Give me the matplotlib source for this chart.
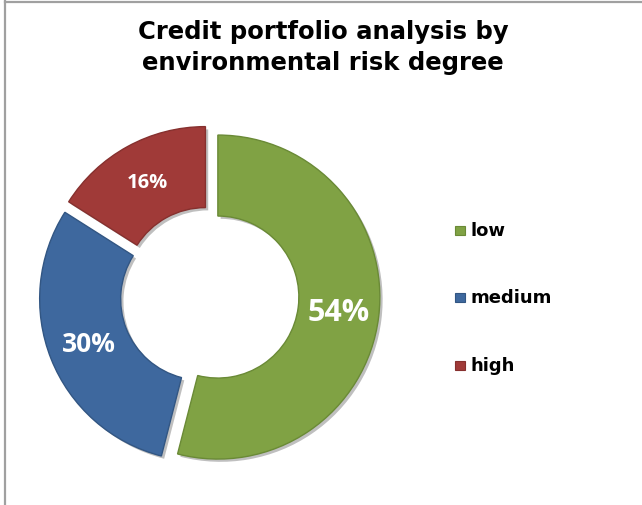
import matplotlib
matplotlib.use("Agg")
import matplotlib.pyplot as plt
from matplotlib.patches import Rectangle
from matplotlib.lines import Line2D
from matplotlib.font_manager import FontProperties
import matplotlib.patheffects as pe

categories = ["low", "medium", "high"]
values = [54, 30, 16]
colors = ["#80A244", "#3E689E", "#A03A38"]
edge_colors = ["#6A8A36", "#325683", "#86302E"]
label_sizes = [22, 19, 14.5]

W, H = 642, 506
fig = plt.figure(figsize=(W / 100, H / 100), dpi=100)
fig.patch.set_facecolor("white")

# chart frame (gray lines on top and left)
fig.add_artist(Line2D([4.5 / W, 4.5 / W], [0, 1 - 2 / H], color="#A0A0A0", lw=1.6))
fig.add_artist(Line2D([4.5 / W, 1], [1 - 2.5 / H, 1 - 2.5 / H], color="#A0A0A0", lw=1.6))

# axes placement: centre (209.5, 209) px from bottom-left, radius 162 px
R_px = 162.0
L = 1.2
half = L * R_px
cx, cy = 209.5, 506 - 297
ax = fig.add_axes([(cx - half) / W, (cy - half) / H, 2 * half / W, 2 * half / H])
ax.set_xlim(-L, L)
ax.set_ylim(-L, L)
ax.set_aspect("equal")
ax.axis("off")

wedges, texts, autotexts = ax.pie(
    values,
    colors=colors,
    startangle=90,
    counterclock=False,
    explode=[0.052] * len(values),
    radius=1.0,
    wedgeprops=dict(width=0.5, linewidth=1.0),
    autopct="%d%%",
    pctdistance=0.75,
    frame=False,
)
ax.set_xlim(-L, L)
ax.set_ylim(-L, L)

for w, ec in zip(wedges, edge_colors):
    w.set_edgecolor(ec)
    w.set_path_effects([
        pe.SimplePatchShadow(offset=(2, -2), alpha=0.25, shadow_rgbFace="#000000"),
        pe.Normal(),
    ])

for t, s in zip(autotexts, label_sizes):
    t.set_fontproperties(FontProperties(family="Open Sans", weight="bold", size=s))
    t.set_color("white")

# title
fig.text(323 / W, 1 - 47.5 / H, "Credit portfolio analysis by\nenvironmental risk degree",
         ha="center", va="center", fontsize=17.5, fontweight="bold",
         family="DejaVu Sans", linespacing=1.33, color="black")

# legend (manual)
leg_y = [231, 298, 366]
for name, col, ec, y in zip(categories, colors, edge_colors, leg_y):
    fig.add_artist(Rectangle(((455) / W, 1 - (y + 5) / H), 10 / W, 9 / H,
                             facecolor=col, edgecolor=ec, lw=0.8,
                             transform=fig.transFigure))
    fig.text(471 / W, 1 - y / H, name, ha="left", va="center",
             fontsize=13, fontweight="bold", family="DejaVu Sans", color="black")

fig.savefig("out.png", dpi=100)
